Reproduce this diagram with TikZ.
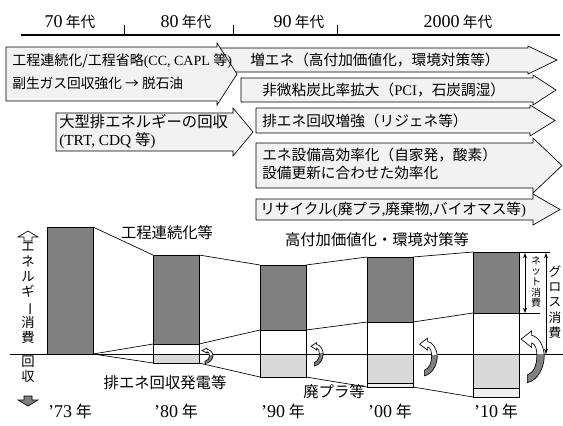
\documentclass[tikz,border=0pt]{standalone}
\usepackage{fontspec}
\setmainfont{Liberation Serif}
\newfontfamily\jp{Noto Sans CJK JP}
\usepackage{graphicx}
\usetikzlibrary{arrows.meta}
\newcommand\latn[1]{{\rmfamily #1}}
\newcommand\dig[1]{{\rmfamily\fontsize{13.5}{15}\selectfont #1}}
\newcommand\vbar{\rotatebox[origin=c]{-90}{ー}}
\newcommand\sigarrow[6]{\path[arrowbox] (#1,#2) -- (#3,#2) -- (#3,#2-#6) -- (#5,{(#2+#4)/2}) -- (#3,#4+#6) -- (#3,#4) -- (#1,#4) -- cycle;}
\newcommand\recycshape[1]{\path[#1] (-12,19) -- (-12,26) .. controls (-2,24) and (4,12) .. (4,2) .. controls (4,-8) and (-2,-16) .. (-8,-17) -- (-8,-21) -- (-18,-13.5) -- (-8,-6) -- (-8,-10) .. controls (-4,-9) and (-3,-4) .. (-3,2) .. controls (-3,10) and (-6,17) .. (-12,19) -- cycle;}
\newcommand\recyc[4]{\begin{scope}[shift={(#1,#2)},xscale=#3,yscale=#4]
 \recycshape{fill=white}
 \begin{scope}\clip (-30,0) rectangle (30,40); \recycshape{fill=black!50}\end{scope}
 \recycshape{draw=black,line width=0.5pt}
\end{scope}}
\tikzset{
  arrowbox/.style={draw=black, line width=0.5pt, fill=black!5},
  atext/.style={font=\jp\fontsize{11}{13}\selectfont, anchor=west, inner sep=0pt},
  hdr/.style={font=\jp\fontsize{11}{13}\selectfont, inner sep=0pt},
  lab/.style={font=\jp\fontsize{11.5}{13}\selectfont, inner sep=0pt},
  yr/.style={font=\jp\fontsize{12}{14}\selectfont, inner sep=0pt},
  vtext/.style={font=\jp\fontsize{10}{11.4}\selectfont, align=center, inner sep=0pt},
  darkbar/.style={fill=black!50, draw=black, line width=0.6pt},
  whitebar/.style={fill=white, draw=black, line width=0.6pt},
  lightbar/.style={fill=black!15, draw=black, line width=0.6pt},
  lighterbar/.style={fill=black!6, draw=black, line width=0.6pt},
  conn/.style={draw=black, line width=0.5pt},
  dim/.style={draw=black, line width=0.5pt, {Stealth[length=4pt,width=3pt]}-{Stealth[length=4pt,width=3pt]}}
}
\begin{document}
\begin{tikzpicture}[x=0.75pt,y=-0.75pt]
\useasboundingbox (0,0) rectangle (563,425);
\clip (0,0) rectangle (563,425);
\fill[white] (0,0) rectangle (563,425);

% ---------- header ----------
\node[hdr] (h70) at (70,22) {\dig{70} 年代};
\node[hdr] (h80) at (186,22) {\dig{80} 年代};
\node[hdr] (h90) at (299,22) {\dig{90} 年代};
\node[hdr] (h2000) at (458,22) {\dig{2000} 年代};
\coordinate (hlL) at (21,35);
\coordinate (hlR) at (560,35);
\draw[line width=0.8pt] (hlL) -- (hlR);
\coordinate (tk1) at (124,25);
\coordinate (tk2) at (233,25);
\coordinate (tk3) at (337,25);
\draw[line width=0.7pt] (tk1) -- (tk1 |- hlL);
\draw[line width=0.7pt] (tk2) -- (tk2 |- hlL);
\draw[line width=0.7pt] (tk3) -- (tk3 |- hlL);

% ---------- arrows ----------
\sigarrow{215}{48}{528}{72}{557}{2}
\sigarrow{6}{47}{217}{101}{237}{4}
\sigarrow{241}{78}{533}{102}{556}{3}
\sigarrow{256}{108}{530}{133}{555}{3}
\sigarrow{56}{113}{233}{151}{253}{5}
\sigarrow{256}{143}{533}{188}{562}{5}
\sigarrow{256}{199}{533}{220}{560}{5}

\node[atext, font=\jp\fontsize{10.5}{12}\selectfont] (t1a) at (12,61) {工程連続化/工程省略\latn{(CC, CAPL }等\latn{)}};
\node[atext, font=\jp\fontsize{10.3}{12}\selectfont] (t1b) at (12,83) {副生ガス回収強化 → 脱石油};
\node[atext] (t2) at (250,60) {増エネ（高付加価値化，環境対策等）};
\node[atext] (t3) at (262,90) {非微粘炭比率拡大（\latn{PCI}，石炭調湿）};
\node[atext] (t4) at (262,121) {排エネ回収増強（リジェネ等）};
\node[atext] (t5a) at (262,155) {エネ設備高効率化（自家発，酸素）};
\node[atext] (t5b) at (262,173) {設備更新に合わせた効率化};
\node[atext] (t6) at (260,210) {リサイクル\latn{(}廃プラ\latn{,}廃棄物\latn{,}バイオマス等\latn{)}};
\node[atext, font=\jp\fontsize{11.5}{13}\selectfont] (t7a) at (59,122) {大型排エネルギーの回収};
\node[atext, font=\jp\fontsize{11.5}{13}\selectfont] (t7b) at (59,141) {\latn{(TRT, CDQ }等\latn{)}};

% ---------- bars ----------
\path[darkbar] (47,227) rectangle (93,354);

\path[darkbar] (153,255) rectangle (199,344);
\path[whitebar] (153,344) rectangle (199,354);
\path[lightbar] (153,354) rectangle (199,363);

\path[darkbar] (260,265) rectangle (306,330);
\path[whitebar] (260,330) rectangle (306,354);
\path[lightbar] (260,354) rectangle (306,377);

\path[darkbar] (367,257) rectangle (413,322);
\path[whitebar] (367,322) rectangle (413,354);
\path[lightbar] (367,354) rectangle (413,383);
\path[lighterbar] (367,383) rectangle (413,387);

\path[darkbar] (473,252) rectangle (519,313);
\path[whitebar] (473,313) rectangle (519,354);
\path[lightbar] (473,354) rectangle (519,388);
\path[lighterbar] (473,388) rectangle (519,397);

% corner coordinates
\coordinate (a73t) at (93,227); \coordinate (a73b) at (93,354);
\coordinate (a80tl) at (153,255); \coordinate (a80tr) at (199,255);
\coordinate (a80ml) at (153,344); \coordinate (a80mr) at (199,344);
\coordinate (a80bl) at (153,363); \coordinate (a80br) at (199,363);
\coordinate (a90tl) at (260,265); \coordinate (a90tr) at (306,265);
\coordinate (a90ml) at (260,330); \coordinate (a90mr) at (306,330);
\coordinate (a90bl) at (260,377); \coordinate (a90br) at (306,377);
\coordinate (a00tl) at (367,257); \coordinate (a00tr) at (413,257);
\coordinate (a00ml) at (367,322); \coordinate (a00mr) at (413,322);
\coordinate (a00bl) at (367,387); \coordinate (a00br) at (413,387);
\coordinate (a10tl) at (473,252); \coordinate (a10tr) at (519,252);
\coordinate (a10ml) at (473,313); \coordinate (a10mr) at (519,313);
\coordinate (a10bl) at (473,397);
\coordinate (e10t) at (550,252); \coordinate (e10m) at (540,313);

\draw[conn] (a73t) -- (a80tl);
\draw[conn] (a80tr) -- (a90tl);
\draw[conn] (a90tr) -- (a00tl);
\draw[conn] (a00tr) -- (a10tl);
\draw[conn] (a10tr) -- (e10t);
\draw[conn] (a73b) -- (a80ml);
\draw[conn] (a80mr) -- (a90ml);
\draw[conn] (a90mr) -- (a00ml);
\draw[conn] (a00mr) -- (a10ml);
\draw[conn] (a10mr) -- (e10m);
\draw[conn] (a73b) -- (a80bl);
\draw[conn] (a80br) -- (a90bl);
\draw[conn] (a90br) -- (a00bl);
\draw[conn] (a00br) -- (a10bl);

% baseline
\coordinate (base0) at (10,354);
\coordinate (base1) at (563,354);
\draw[line width=0.7pt] (base0) -- (base1);

% recycle arrows
\recyc{211}{355}{0.5}{0.33}
\recyc{321}{353}{0.55}{0.5}
\recyc{434}{355}{0.8}{0.8}
\recyc{540}{354}{1.05}{1.1}

% dimension arrows
\coordinate (n1) at (525,253); \coordinate (n2) at (525,313);
\coordinate (g1) at (546,253); \coordinate (g2) at (546,354);
\draw[dim] (n1) -- (n2);
\draw[dim] (g1) -- (g2);
\node[font=\jp\fontsize{7.5}{8}\selectfont, align=center, inner sep=0pt] (net) at (536,282) {ネ\\ッ\\ト\\消\\費};
\node[font=\jp\fontsize{9.5}{11.5}\selectfont, align=center, inner sep=0pt] (gross) at (555,302) {グ\\ロ\\ス\\消\\費};

% left axis
\path[draw=black, fill=white, line width=0.5pt] (28,231) -- (38,237) -- (32,237) -- (32,241) -- (24,241) -- (24,237) -- (18,237) -- cycle;
\node[vtext] (vE) at (28,293) {エ\\ネ\\ル\\ギ\\\vbar\\消\\費};
\node[vtext] (vK) at (28,369.5) {回\\収};
\path[draw=black, fill=black!50, line width=0.5pt] (24,396) -- (32,396) -- (32,400) -- (38,400) -- (28,406) -- (18,400) -- (24,400) -- cycle;

% labels
\node[lab] (lkotei) at (167,233) {工程連続化等};
\node[lab] (lkoufuka) at (377,240) {高付加価値化・環境対策等};
\node[lab] (lhai) at (165,383) {排エネ回収発電等};
\node[lab] (lpla) at (334,392) {廃プラ等};

% years
\node[yr] (y73) at (70,411) {\dig{’73} 年};
\node[yr] (y80) at (176,411) {\dig{’80} 年};
\node[yr] (y90) at (283,411) {\dig{’90} 年};
\node[yr] (y00) at (390,411) {\dig{’00} 年};
\node[yr] (y10) at (496,411) {\dig{’10} 年};
\end{tikzpicture}
\end{document}
